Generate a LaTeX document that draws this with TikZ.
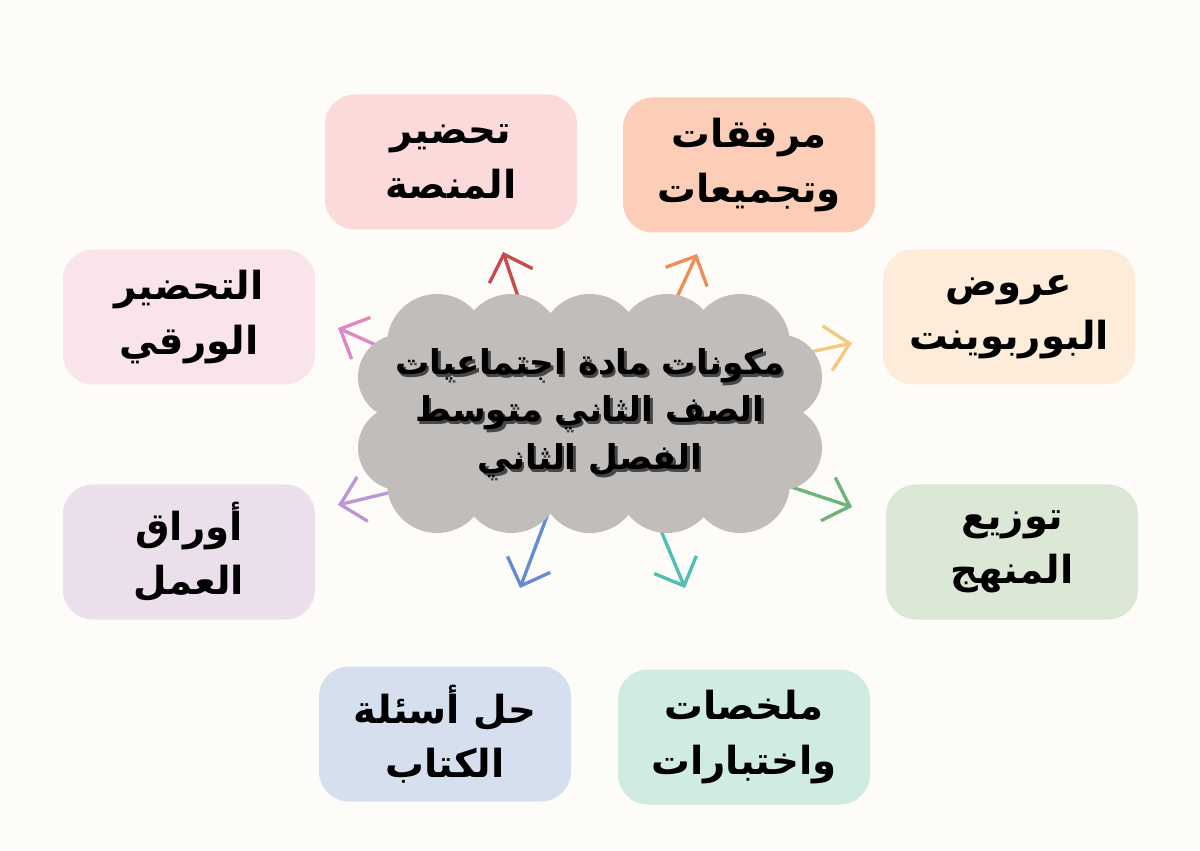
\documentclass[tikz,border=0pt]{standalone}
\usepackage{fontspec}
\usepackage{tikz}
\usetikzlibrary{arrows.meta, shapes.geometric}
\TeXXeTstate=1
\newfontfamily\arabicfont[Script=Arabic]{DejaVu Sans}
\definecolor{pagebg}{RGB}{253,252,248}
\definecolor{cloudgray}{RGB}{193,189,186}
\definecolor{titleshade}{RGB}{70,70,70}
\tikzset{
    compbox/.style={rectangle, rounded corners=0.6cm, fill=#1, minimum width=5.04cm, minimum height=2.7cm, align=center, font=\arabicfont\bfseries\fontsize{22}{31}\selectfont, inner sep=0pt},
    hubshape/.style={ellipse, minimum width=7cm, minimum height=3.6cm, inner sep=0pt, outer sep=0pt},
    hubtitle/.style={align=center, font=\arabicfont\bfseries\fontsize{19.5}{27}\selectfont, inner sep=0pt},
    arrcomp/.style={-{Straight Barb[length=13pt, width=26pt]}, line width=1.9pt, line cap=round, line join=round, color=#1}
}

\begin{document}
\begin{tikzpicture}
            \definecolor{boxpink}{RGB}{252,218,218}
            \definecolor{boxpeach}{RGB}{252,206,184}
            \definecolor{boxrose}{RGB}{250,228,236}
            \definecolor{boxcream}{RGB}{253,236,217}
            \definecolor{boxlilac}{RGB}{236,223,236}
            \definecolor{boxsage}{RGB}{219,232,214}
            \definecolor{boxsky}{RGB}{213,223,238}
            \definecolor{boxmint}{RGB}{207,235,226}
            \definecolor{arrred}{RGB}{200,75,75}
            \definecolor{arrorange}{RGB}{240,140,90}
            \definecolor{arrpink}{RGB}{222,135,195}
            \definecolor{arryellow}{RGB}{245,200,125}
            \definecolor{arrpurple}{RGB}{190,150,215}
            \definecolor{arrgreen}{RGB}{110,180,120}
            \definecolor{arrblue}{RGB}{100,140,210}
            \definecolor{arrteal}{RGB}{80,190,180}
            \fill[pagebg] (0,0) rectangle (24,17);
            \useasboundingbox (0,0) rectangle (24,17);
            \node[hubshape] (hub) at (11.80,8.74) {};
            \node[compbox=boxpink] (platform) at (9.02,13.76) {\beginR تحضير\endR\\\beginR المنصة\endR};
            \node[compbox=boxpeach] (attach) at (14.98,13.70) {\beginR مرفقات\endR\\\beginR وتجميعات\endR};
            \node[compbox=boxrose] (paper) at (3.78,10.66) {\beginR التحضير\endR\\\beginR الورقي\endR};
            \node[compbox=boxcream] (slides) at (20.18,10.66) {\beginR عروض\endR\\\beginR البوربوينت\endR};
            \node[compbox=boxlilac] (worksheets) at (3.78,5.96) {\beginR أوراق\endR\\\beginR العمل\endR};
            \node[compbox=boxsage] (plan) at (20.24,5.96) {\beginR توزيع\endR\\\beginR المنهج\endR};
            \node[compbox=boxsky] (solutions) at (8.90,2.32) {\beginR حل أسئلة\endR\\\beginR الكتاب\endR};
            \node[compbox=boxmint] (summaries) at (14.88,2.26) {\beginR ملخصات\endR\\\beginR واختبارات\endR};
            \coordinate (tipplatform) at (10.06,11.96);
            \coordinate (tipattach) at (13.94,11.92);
            \coordinate (tippaper) at (6.76,10.44);
            \coordinate (tipslides) at (17.04,10.14);
            \coordinate (tipworksheets) at (6.76,6.90);
            \coordinate (tipplan) at (17.04,6.86);
            \coordinate (tipsolutions) at (10.40,5.24);
            \coordinate (tipsummaries) at (13.70,5.24);
            \draw[arrcomp=arrred] (hub.126) -- (tipplatform);
            \draw[arrcomp=arrorange] (hub.49) -- (tipattach);
            \draw[arrcomp=arrpink] (hub.165) -- (tippaper);
            \draw[arrcomp=arryellow] (hub.17) -- (tipslides);
            \draw[arrcomp=arrpurple] (hub.206) -- (tipworksheets);
            \draw[arrcomp=arrgreen] (hub.339) -- (tipplan);
            \draw[arrcomp=arrblue] (hub.247) -- (tipsolutions);
            \draw[arrcomp=arrteal] (hub.304) -- (tipsummaries);
            \fill[cloudgray] (8.74,7.34) rectangle (14.80,10.12);
            \fill[cloudgray] (8.01,8.04) rectangle (15.59,9.46);
            \foreach \x in {8.74,10.22,11.80,13.34,14.80} {
                \fill[cloudgray] (\x,10.12) circle (1.0);
                \fill[cloudgray] (\x,7.34) circle (1.0);
            }
            \foreach \y in {9.46,8.04} {
                \fill[cloudgray] (8.01,\y) circle (0.85);
                \fill[cloudgray] (15.59,\y) circle (0.85);
            }
            \node[hubtitle, text=titleshade] at ([xshift=0.05cm, yshift=-0.06cm]hub.center) {\beginR مكونات مادة اجتماعيات\endR\\\beginR الصف الثاني متوسط\endR\\\beginR الفصل الثاني\endR};
            \node[hubtitle] (title) at (hub.center) {\beginR مكونات مادة اجتماعيات\endR\\\beginR الصف الثاني متوسط\endR\\\beginR الفصل الثاني\endR};
        \end{tikzpicture}
\end{document}
